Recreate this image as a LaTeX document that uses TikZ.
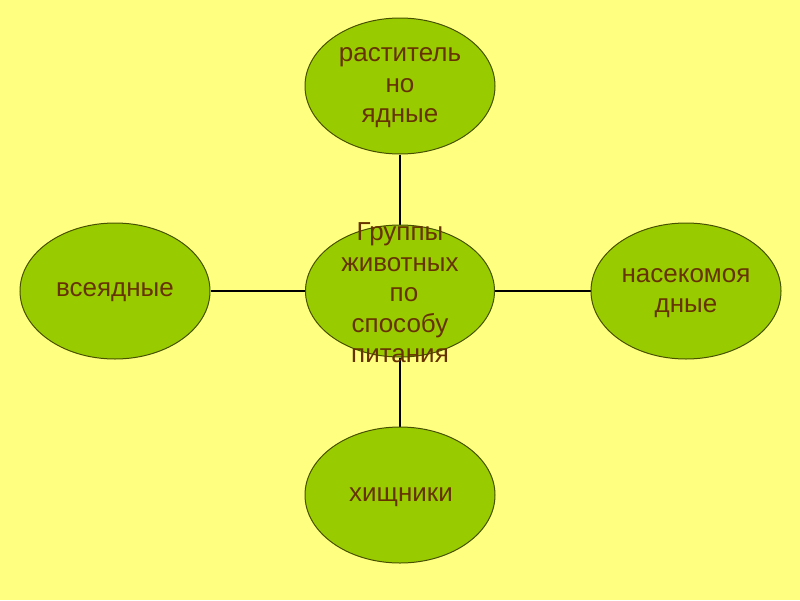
\documentclass[tikz,border=0pt]{standalone}
\usepackage{fontspec}
\setmainfont{Liberation Sans}
\usetikzlibrary{shapes.geometric}
\definecolor{bgyellow}{RGB}{255,255,128}
\definecolor{leaf}{RGB}{153,204,0}
\definecolor{rim}{RGB}{70,80,0}
\definecolor{ink}{RGB}{102,51,0}
\tikzset{
  blob/.style={ellipse, draw=rim, line width=1pt, fill=leaf, inner sep=0pt,
    minimum width=190pt, minimum height=136pt},
  lbl/.style={text=ink, font=\fontsize{26}{30.5}\selectfont, align=center, inner sep=0pt},
  link/.style={draw=black, line width=2.5pt}
}
\begin{document}
\begin{tikzpicture}[x=1pt,y=-1pt]
\fill[bgyellow] (0,0) rectangle (800,600);
\useasboundingbox (0,0) rectangle (800,600);
\coordinate (tp) at (400,86);
\coordinate (lp) at (115,291);
\coordinate (rp) at (686,291);
\coordinate (bp) at (400,495);
\coordinate (cp) at (400,291);
% invisible copies of the ellipses, used as connector ends
\path (tp) node[blob, draw=none, fill=none] (t0) {}
      (lp) node[blob, draw=none, fill=none] (l0) {}
      (rp) node[blob, draw=none, fill=none] (r0) {}
      (bp) node[blob, draw=none, fill=none] (b0) {}
      (cp) node[blob, draw=none, fill=none, minimum width=189pt, minimum height=132pt] (c0) {};
\draw[link] (t0.south) -- (c0.north);
\draw[link] (c0.south) -- (b0.north);
\draw[link] (l0.east) -- (c0.west);
\draw[link] (c0.east) -- (r0.west);
% ellipses
\node[blob] (t) at (tp) {};
\node[blob] (l) at (lp) {};
\node[blob] (r) at (rp) {};
\node[blob] (b) at (bp) {};
\node[blob, minimum width=189pt, minimum height=132pt] (c) at (cp) {};
% texts
\node[lbl] (tt) at (400,88) {раститель\\но\\ядные};
\node[lbl] (lt) at (115,292) {всеядные};
\node[lbl] (rt) at (686,293) {насекомоя\\дные};
\node[lbl] (bt) at (401,497) {хищники};
\node[lbl] (ct) at (400,293) {Группы\\животных\\\hspace*{8pt}по\\способу\\питания};
\end{tikzpicture}
\end{document}
